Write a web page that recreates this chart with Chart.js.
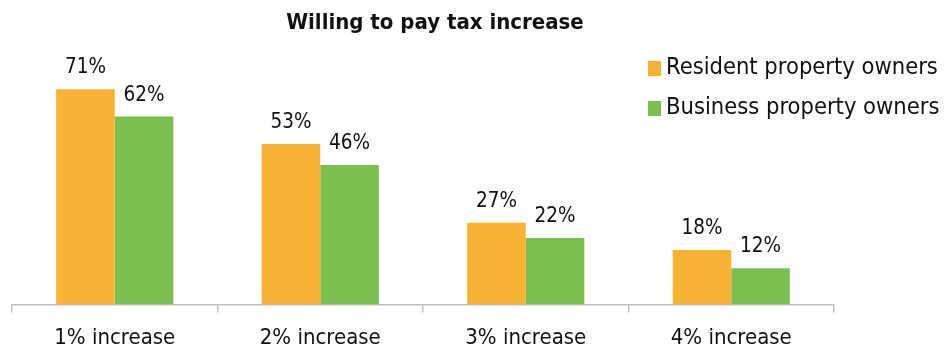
<!DOCTYPE html>
<html>
<head>
<meta charset="utf-8">
<script src="https://cdn.jsdelivr.net/npm/chart.js@4"></script>
<style>
html,body{margin:0;padding:0;background:#fff}
#wrap{position:relative;width:945px;height:350px}
</style>
</head>
<body>
<div id="wrap"><canvas id="taxChart" width="945" height="350"></canvas></div>
<script>
/* ====================================
   CHART DATA
==================================== */

const categories=["1% increase","2% increase","3% increase","4% increase"]
const seriesNames=["Resident property owners","Business property owners"]
const residentValues=[71,53,27,18]
const businessValues=[62,46,22,12]
const seriesColors=["#F8B334","#7DBE50"]
const chartTitle="Willing to pay tax increase"

const FONT="'DejaVu Sans Condensed','DejaVu Sans',sans-serif"


/* ====================================
   PLUGIN: title, value labels, legend
==================================== */

const extras={
id:"extras",
afterDraw(chart){
const ctx=chart.ctx
ctx.save()

// title
ctx.fillStyle="#111"
ctx.font="bold 22px "+FONT
ctx.textAlign="center"
ctx.textBaseline="middle"
ctx.fillText(chartTitle,435,23)

// value labels above every bar
ctx.font="20.5px "+FONT
ctx.textBaseline="alphabetic"
chart.data.datasets.forEach((ds,i)=>{
chart.getDatasetMeta(i).data.forEach((bar,j)=>{
ctx.fillText(ds.data[j]+"%",bar.x,bar.y-16)
})
})

// legend in the upper right
ctx.textAlign="left"
ctx.textBaseline="middle"
ctx.font="23.5px "+FONT
chart.data.datasets.forEach((ds,i)=>{
const y=68+i*40
ctx.fillStyle=ds.backgroundColor
ctx.fillRect(648,y-7,13,15)
ctx.fillStyle="#111"
ctx.fillText(ds.label,666,y)
})

ctx.restore()
}
}


/* ====================================
   DRAW BAR CHART
==================================== */

new Chart(document.getElementById("taxChart"),{

type:"bar",

data:{
labels:categories,
datasets:[
{label:seriesNames[0],data:residentValues,backgroundColor:seriesColors[0]},
{label:seriesNames[1],data:businessValues,backgroundColor:seriesColors[1]}
]
},

options:{
responsive:false,
animation:false,
layout:{padding:{left:12,right:111,top:62,bottom:-13}},
datasets:{bar:{categoryPercentage:0.57,barPercentage:1}},
plugins:{
legend:{display:false},
title:{display:false},
tooltip:{enabled:false}
},
scales:{
y:{display:false,min:0,max:80},
x:{
border:{display:true,color:"#BFBFBF",width:1.5},
grid:{drawOnChartArea:false,color:"#BFBFBF",tickLength:8,lineWidth:1.5},
ticks:{color:"#111",font:{family:FONT,size:22},padding:12}
}
}
},

plugins:[extras]

})
</script>
</body>
</html>
